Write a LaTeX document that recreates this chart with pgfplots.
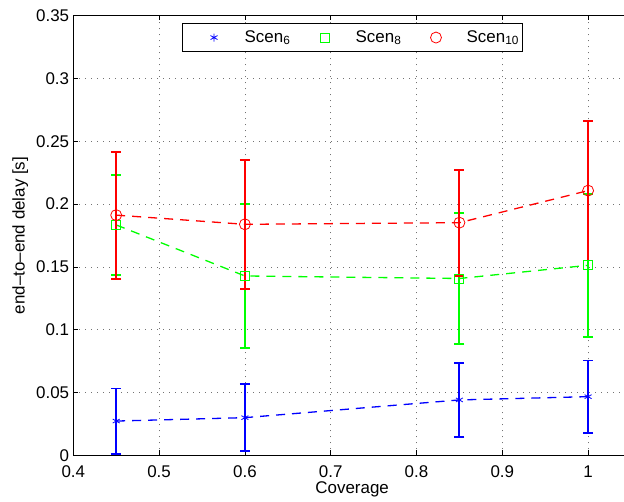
\documentclass[border=0pt]{standalone}
\usepackage{pgfplots}
\pgfplotsset{compat=1.18}
\usepackage{fontspec}
\setmainfont{Liberation Sans}

\begin{document}
\fontsize{17}{20}\selectfont
\begin{tikzpicture}
\begin{axis}[
    at={(0,0)}, anchor=south west,
    scale only axis, width=557.7bp, height=440bp,
    xmin=0.4, xmax=1.05, ymin=0, ymax=0.35,
    xtick={0.4,0.5,0.6,0.7,0.8,0.9,1.0},
    ytick={0,0.05,0.1,0.15,0.2,0.25,0.3,0.35},
    scaled ticks=false,
    /pgf/number format/assume math mode=true,
    /pgf/number format/fixed,
    /pgf/number format/precision=2,
    xticklabel style={inner sep=1bp, yshift=-9bp},
    yticklabel style={inner sep=1bp, xshift=-3bp},
    tick align=inside, major tick length=5bp,
    tick style={black, line width=0.6bp},
    axis line style={black, line width=0.8bp},
    grid=major,
    major grid style={black!55, line width=0.7bp, dash pattern=on 1bp off 5bp},
    xlabel={Coverage},
    every axis x label/.style={at={([yshift=-38bp]axis description cs:0.5,0)}, anchor=base},
    ylabel={end–to–end delay [s]},
    every axis y label/.style={at={([xshift=-53bp]axis description cs:0,0.5)}, rotate=90, anchor=center},
    legend columns=3,
    legend style={at={(0.5,0.983)}, anchor=north, draw=black, line width=0.8bp,
        inner xsep=0bp, inner ysep=4bp,
        font=\fontsize{17}{20}\selectfont,
        nodes={inner xsep=3bp, inner ysep=3bp},
        /tikz/every even column/.append style={column sep=0bp},
        /tikz/every odd column/.append style={column sep=0bp}},
    legend cell align=left,
    legend image code/.code={\path (-31bp,0bp) (27bp,0bp);
        \draw[#1, only marks] plot coordinates {(0bp,0bp)};},
]
% Scen6
\addplot[blue, line width=1.3bp, dash pattern=on 9bp off 7bp,
    mark=asterisk, mark size=4bp, mark options={solid, line width=0.8bp},
    error bars/.cd, y dir=both, y explicit,
    error bar style={solid, line width=1.8bp},
    error mark options={rotate=90, mark size=5bp, solid, line width=1.8bp}]
coordinates {
    (0.45, 0.0274) +- (0, 0.0259)
    (0.60, 0.0301) +- (0, 0.0265)
    (0.85, 0.0442) +- (0, 0.0292)
    (1.00, 0.0468) +- (0, 0.0287)
};
\addlegendentry{Scen\textsubscript{6}}
% Scen8
\addplot[green, line width=1.3bp, dash pattern=on 9bp off 7bp,
    mark=square, mark size=4.5bp, mark options={solid, line width=0.8bp},
    error bars/.cd, y dir=both, y explicit,
    error bar style={solid, line width=1.8bp},
    error mark options={rotate=90, mark size=5bp, solid, line width=1.8bp}]
coordinates {
    (0.45, 0.1834) +- (0, 0.0398)
    (0.60, 0.1428) +- (0, 0.0573)
    (0.85, 0.1408) +- (0, 0.0524)
    (1.00, 0.1513) +- (0, 0.0569)
};
\addlegendentry{Scen\textsubscript{8}}
% Scen10
\addplot[red, line width=1.3bp, dash pattern=on 9bp off 7bp,
    mark=o, mark size=5.5bp, mark options={solid, line width=0.8bp},
    error bars/.cd, y dir=both, y explicit,
    error bar style={solid, line width=1.8bp},
    error mark options={rotate=90, mark size=5bp, solid, line width=1.8bp}]
coordinates {
    (0.45, 0.1912) +- (0, 0.0505)
    (0.60, 0.1839) +- (0, 0.0512)
    (0.85, 0.1852) +- (0, 0.0422)
    (1.00, 0.2107) +- (0, 0.0556)
};
\addlegendentry{Scen\textsubscript{10}}
\end{axis}
\pgfresetboundingbox
\path (-73.3bp,-46.5bp) rectangle (550.7bp,455.5bp);
\end{tikzpicture}
\end{document}
